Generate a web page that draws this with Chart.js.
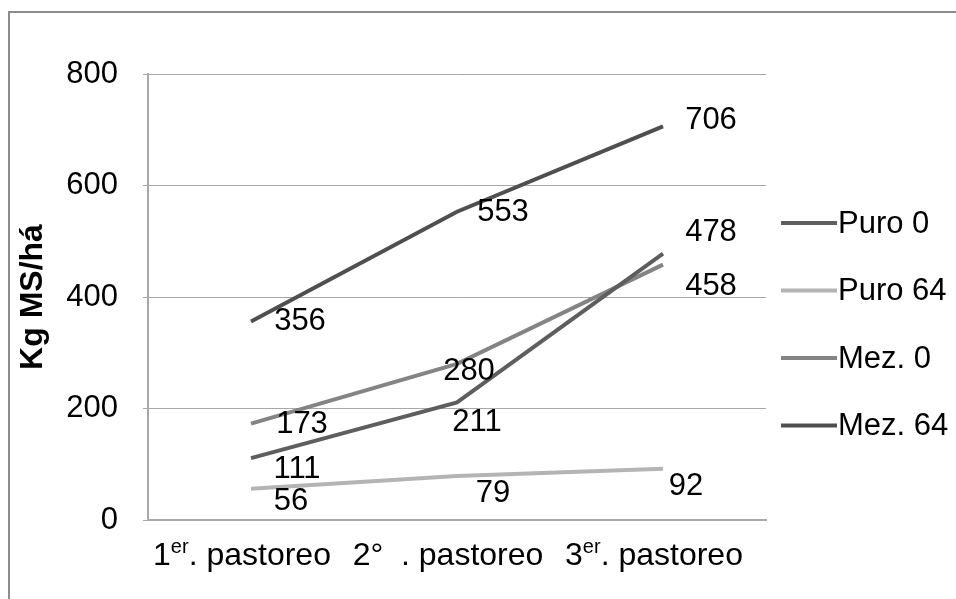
<!DOCTYPE html>
<html><head><meta charset="utf-8">
<script src="https://cdn.jsdelivr.net/npm/chart.js@4/dist/chart.umd.min.js"></script>
<style>html,body{margin:0;padding:0;background:#fff;overflow:hidden}#wrap{width:956px;height:599px;position:relative}canvas{display:block}</style>
</head><body><div id="wrap"><canvas id="c" width="956" height="599" style="width:956px;height:599px"></canvas></div>
<script>
// ---- data ----
const categories = ["1^er. pastoreo", "2°  . pastoreo", "3^er. pastoreo"];
const yTicks = [0, 200, 400, 600, 800];
const seriesNames = ["Puro 0", "Puro 64", "Mez. 0", "Mez. 64"];
const puro0  = [111, 211, 478];
const puro64 = [56, 79, 92];
const mez0   = [173, 280, 458];
const mez64  = [356, 553, 706];
const yTitle = "Kg MS/há";

// ---- styles ----
const FONT = "'Liberation Sans', Arial, sans-serif";
const colors = ["#5e5e5e", "#b4b4b4", "#848484", "#4f4f4f"];
// label offsets (px) relative to each point: [dx, dy] for text center
const labelOffsets = [
  [[46, 11], [20, 20], [48, -21]],
  [[40, 13], [36, 17], [23, 18]],
  [[51, 1], [12, 8], [48, 22]],
  [[49, 0], [46, 1], [48, -6]]
];

const seriesValues = [puro0, puro64, mez0, mez64];
const plainLabels = categories.map(s => s.replace('^', ''));

const framePlugin = {
  id: 'frame',
  beforeDraw(chart) {
    const ctx = chart.ctx;
    ctx.save();
    ctx.fillStyle = '#fff';
    ctx.fillRect(0, 0, chart.width, chart.height);
    ctx.strokeStyle = '#8c8c8c';
    ctx.lineWidth = 2;
    ctx.beginPath();
    ctx.moveTo(9, chart.height);
    ctx.lineTo(9, 12);
    ctx.lineTo(chart.width, 12);
    ctx.stroke();
    ctx.restore();
  }
};

const customText = {
  id: 'customText',
  afterDraw(chart) {
    const ctx = chart.ctx;
    const xs = chart.scales.x;
    ctx.save();
    ctx.fillStyle = '#000';
    ctx.textBaseline = 'alphabetic';
    // x category labels with superscripts
    const base = 32, sup = 20;
    categories.forEach((cat, i) => {
      const m = cat.match(/^(.*?)\^([^.]*)(.*)$/);
      let parts = m ? [[m[1], base, 0], [m[2], sup, -12], [m[3], base, 0]] : [[cat, base, 0]];
      let total = 0;
      parts.forEach(p => { ctx.font = p[1] + 'px ' + FONT; total += ctx.measureText(p[0]).width; });
      let x = xs.getPixelForValue(i) - total / 2 - 9;
      const y = xs.top + 45;
      parts.forEach(p => {
        ctx.font = p[1] + 'px ' + FONT;
        ctx.textAlign = 'left';
        ctx.fillText(p[0], x, y + p[2]);
        x += ctx.measureText(p[0]).width;
      });
    });
    // data labels
    ctx.font = '31px ' + FONT;
    ctx.textAlign = 'center';
    ctx.textBaseline = 'middle';
    chart.data.datasets.forEach((ds, di) => {
      const meta = chart.getDatasetMeta(di);
      meta.data.forEach((pt, pi) => {
        const off = labelOffsets[di][pi];
        ctx.fillText(String(ds.data[pi]), pt.x + off[0], pt.y + off[1]);
      });
    });
    // legend
    const area = chart.chartArea;
    const midY = (area.top + area.bottom) / 2;
    const gap = 67.5;
    ctx.textAlign = 'left';
    chart.data.datasets.forEach((ds, di) => {
      const y = midY - 74 + di * gap;
      ctx.strokeStyle = ds.borderColor;
      ctx.lineWidth = 4;
      ctx.lineCap = 'butt';
      ctx.beginPath();
      ctx.moveTo(781, y);
      ctx.lineTo(837, y);
      ctx.stroke();
      ctx.fillText(ds.label, 838, y + 1);
    });
    ctx.restore();
  }
};

new Chart(document.getElementById('c'), {
  type: 'line',
  data: {
    labels: plainLabels,
    datasets: seriesNames.map((n, i) => ({
      label: n,
      data: seriesValues[i],
      borderColor: colors[i],
      backgroundColor: colors[i],
      borderWidth: 4,
      pointRadius: 0,
      tension: 0,
      fill: false
    }))
  },
  options: {
    responsive: false,
    animation: false,
    devicePixelRatio: 1,
    layout: { padding: { top: 74, right: 190, bottom: 0, left: 0 } },
    plugins: { legend: { display: false }, tooltip: { enabled: false } },
    scales: {
      x: {
        offset: true,
        grid: { display: false, drawTicks: false },
        border: { display: true, color: '#a8a8a8', width: 2 },
        ticks: { display: false },
        afterFit(s) { s.height = 79; }
      },
      y: {
        min: 0, max: 800,
        afterBuildTicks(s) { s.ticks = yTicks.map(v => ({ value: v })); },
        grid: { color: '#a8a8a8', lineWidth: 1, drawTicks: true, tickLength: 5 },
        border: { display: true, color: '#a8a8a8', width: 2 },
        ticks: { color: '#000', font: { family: FONT, size: 31 }, padding: 25 },
        title: { display: true, text: yTitle, color: '#000', font: { family: FONT, size: 32, weight: 'bold' }, padding: { top: 14, bottom: 0 } },
        afterFit(s) { s.width = 148; }
      }
    }
  },
  plugins: [framePlugin, customText]
});
</script>
</body></html>
